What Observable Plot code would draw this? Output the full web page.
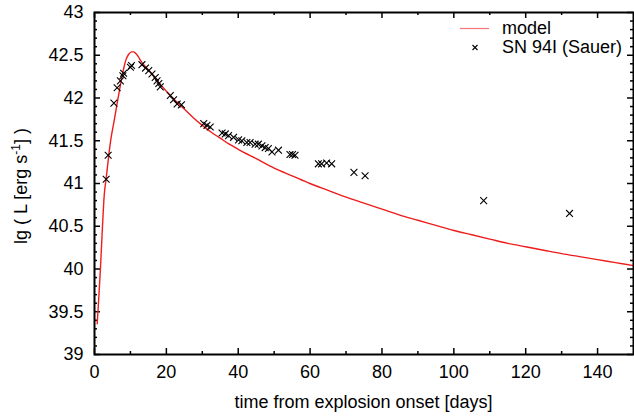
<!DOCTYPE html>
<html><head><meta charset="utf-8">
<script src="https://cdn.jsdelivr.net/npm/d3@7"></script>
<script src="https://cdn.jsdelivr.net/npm/@observablehq/plot@0.6"></script>
<style>
body{margin:0;background:#fff}
#wrap{position:relative;width:634px;height:416px;font-family:"Liberation Sans",Arial,Helvetica,sans-serif}
#legend{position:absolute;left:458px;top:19px;font-size:18px;line-height:19px;color:#000}
#legend div{display:flex;align-items:center;height:19px;white-space:nowrap}
#legend svg{width:42px;height:19px;margin-right:2px}
</style>
</head><body><div id="wrap"></div>
<script>
// model light curve (days, lg L)
const modelDay = [0.75, 1.2, 1.67, 2.2, 2.7, 3.25, 4.0, 4.6, 5.5, 6.4, 7.2, 7.7, 8.2, 8.7, 9.2, 9.7, 10.3, 10.9, 11.5, 12.1, 12.8, 13.7, 15.0, 16.0, 17.5, 20.0, 22.5, 25.0, 27.5, 30.0, 32.5, 35.0, 37.5, 40.0, 45.0, 50.0, 55.0, 60.0, 65.0, 70.0, 75.0, 80.0, 85.0, 90.0, 95.0, 100.0, 105.0, 110.0, 115.0, 120.0, 125.0, 130.0, 135.0, 140.0, 145.0, 150.0];
const modelLg  = [39.36, 39.67, 40.02, 40.48, 40.86, 41.06, 41.34, 41.53, 41.74, 41.96, 42.15, 42.26, 42.36, 42.44, 42.49, 42.52, 42.54, 42.54, 42.52, 42.49, 42.44, 42.39, 42.33, 42.28, 42.20, 42.08, 41.97, 41.87, 41.77, 41.68, 41.60, 41.53, 41.46, 41.40, 41.29, 41.18, 41.09, 41.00, 40.92, 40.84, 40.77, 40.70, 40.63, 40.57, 40.51, 40.45, 40.40, 40.35, 40.30, 40.26, 40.22, 40.18, 40.145, 40.11, 40.075, 40.04];
// SN 94I observations (Sauer)
const obsDay = [3.25, 3.8, 5.4, 6.3, 7.2, 7.9, 8.1, 10.0, 10.3, 13.2, 14.2, 15.1, 16.0, 16.9, 17.4, 17.9, 18.3, 21.1, 22.0, 23.0, 24.2, 30.4, 31.3, 32.2, 35.5, 36.4, 37.3, 38.7, 40.1, 41.0, 42.4, 43.3, 44.7, 45.6, 46.6, 47.5, 48.4, 49.4, 51.2, 54.4, 55.1, 55.8, 62.3, 63.2, 64.6, 66.0, 72.2, 75.3, 108.3, 132.2];
const obsLg  = [41.05, 41.33, 41.94, 42.12, 42.20, 42.26, 42.29, 42.36, 42.38, 42.39, 42.35, 42.32, 42.28, 42.24, 42.20, 42.17, 42.13, 42.03, 41.98, 41.93, 41.92, 41.70, 41.68, 41.66, 41.59, 41.58, 41.56, 41.54, 41.51, 41.50, 41.48, 41.48, 41.46, 41.46, 41.44, 41.42, 41.41, 41.37, 41.39, 41.34, 41.34, 41.33, 41.23, 41.23, 41.24, 41.23, 41.13, 41.09, 40.80, 40.65];
const xTicks = [0, 20, 40, 60, 80, 100, 120, 140];
const xMinor = [10, 30, 50, 70, 90, 110, 130];
const yTicks = [39, 39.5, 40, 40.5, 41, 41.5, 42, 42.5, 43];
const yMinor = d3.range(39.1, 43, 0.1).map(v => +v.toFixed(1)).filter(v => !yTicks.includes(v));
const xTitle = "time from explosion onset [days]";
const seriesNames = ["model", "SN 94I (Sauer)"];

const model = modelDay.map((d, i) => ({day: d, lg: modelLg[i]}));
const obs = obsDay.map((d, i) => ({day: d, lg: obsLg[i]}));

const W = 634, H = 416, mL = 94, mR = 1, mT = 12, mB = 62;
const pw = W - mL - mR, ph = H - mT - mB;
const red = "#ee1c1c";
const font = '"Liberation Sans", Arial, Helvetica, sans-serif';

const chart = Plot.plot({
  width: W, height: H,
  marginLeft: mL, marginRight: mR, marginTop: mT, marginBottom: mB,
  style: {fontFamily: font, fontSize: "18px", color: "#000", background: "#fff", overflow: "visible"},
  x: {domain: [0, 150]},
  y: {domain: [39, 43]},
  marks: [
    Plot.axisX(xTicks, {tickSize: 0, tickPadding: 11, label: null, fontSize: 18, tickFormat: d => String(d)}),
    Plot.axisY(yTicks, {tickSize: 0, tickPadding: 11, label: null, fontSize: 18, tickFormat: d => String(d)}),
    // inward major / minor ticks on all four sides
    Plot.tickX(xTicks, {x: d => d, insetTop: ph - 6, stroke: "#000", strokeWidth: 1.5}),
    Plot.tickX(xTicks, {x: d => d, insetBottom: ph - 6, stroke: "#000", strokeWidth: 1.5}),
    Plot.tickX(xMinor, {x: d => d, insetTop: ph - 3, stroke: "#000", strokeWidth: 1.5}),
    Plot.tickX(xMinor, {x: d => d, insetBottom: ph - 3, stroke: "#000", strokeWidth: 1.5}),
    Plot.tickY(yTicks, {y: d => d, insetRight: pw - 6, stroke: "#000", strokeWidth: 1.5}),
    Plot.tickY(yTicks, {y: d => d, insetLeft: pw - 6, stroke: "#000", strokeWidth: 1.5}),
    Plot.tickY(yMinor, {y: d => d, insetRight: pw - 3, stroke: "#000", strokeWidth: 1.5}),
    Plot.tickY(yMinor, {y: d => d, insetLeft: pw - 3, stroke: "#000", strokeWidth: 1.5}),
    Plot.line(model, {x: "day", y: "lg", stroke: red, strokeWidth: 1.4, curve: "monotone-x"}),
    Plot.dot(obs, {x: "day", y: "lg", symbol: "times", r: 3.2, stroke: "#000", strokeWidth: 1.1}),
    Plot.frame({stroke: "#000", strokeWidth: 2})
  ]
});

const svg = d3.select(chart);
// x title
svg.append("text")
  .attr("x", mL + pw / 2).attr("y", 408)
  .attr("text-anchor", "middle").attr("font-size", 18).attr("fill", "#000")
  .text(xTitle);
// y title with superscript
const yt = svg.append("text")
  .attr("transform", "translate(27,186) rotate(-90)")
  .attr("text-anchor", "middle").attr("font-size", 18).attr("fill", "#000");
yt.append("tspan").text("lg ( L [erg s");
yt.append("tspan").attr("dy", -7).attr("font-size", 12).text("-1");
yt.append("tspan").attr("dy", 7).text("] )");

const wrap = document.getElementById("wrap");
wrap.appendChild(chart);

// legend inside the plot, top right
const leg = document.createElement("div");
leg.id = "legend";
leg.innerHTML =
  `<div><svg viewBox="0 0 42 19"><line x1="2" x2="31" y1="9.5" y2="9.5" stroke="${red}" stroke-width="1.2" opacity="0.6"/></svg><span>${seriesNames[0]}</span></div>` +
  `<div><svg viewBox="0 0 42 19"><path d="M14.5,7 L19.5,12 M19.5,7 L14.5,12" stroke="#000" stroke-width="1.1"/></svg><span>${seriesNames[1]}</span></div>`;
wrap.appendChild(leg);
</script>
</body></html>
